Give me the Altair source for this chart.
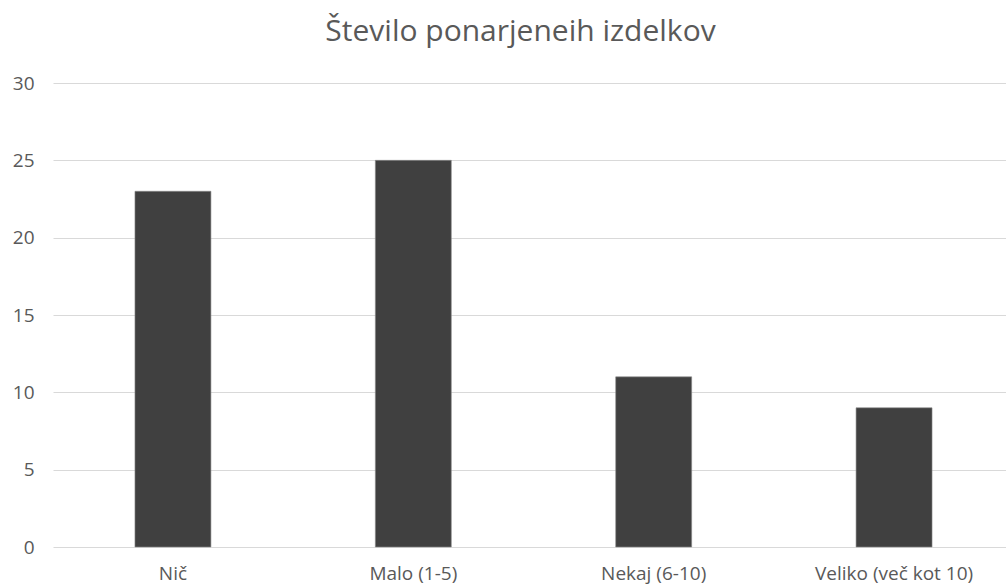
import altair as alt
import pandas as pd

# Number of counterfeit items, by category
categories = ["Nič", "Malo (1-5)", "Nekaj (6-10)", "Veliko (več kot 10)"]
counts = [23, 25, 11, 9]
y_ticks = [0, 5, 10, 15, 20, 25, 30]

df = pd.DataFrame({"kategorija": categories, "stevilo": counts})

FONT = "Open Sans"
TEXT = "#595959"

chart = (
    alt.Chart(df)
    .mark_bar(color="#404040", stroke="#8a8a8a", strokeWidth=0.6)
    .encode(
        x=alt.X(
            "kategorija:N",
            sort=categories,
            scale=alt.Scale(paddingInner=0.684, paddingOuter=0.341, range=[0, 961]),
            axis=alt.Axis(
                title=None,
                labelAngle=0,
                ticks=False,
                domain=False,
                labelPadding=17,
                labelFont=FONT,
                labelFontSize=19,
                labelColor=TEXT,
            ),
        ),
        y=alt.Y(
            "stevilo:Q",
            scale=alt.Scale(domain=[0, 30], nice=False),
            axis=alt.Axis(
                title=None,
                values=y_ticks,
                ticks=False,
                domain=False,
                labelPadding=19,
                labelFont=FONT,
                labelFontSize=19,
                labelColor=TEXT,
                gridColor="#d9d9d9",
                gridWidth=1.2,
            ),
        ),
    )
    .properties(
        width=953,
        height=464,
        autosize=alt.AutoSizeParams(type="none"),
        padding={"left": 53, "top": 83, "right": 0, "bottom": 39},
        title=alt.TitleParams(
            "Število ponarjeneih izdelkov",
            font=FONT,
            fontSize=30,
            fontWeight="normal",
            color=TEXT,
            anchor="middle",
            frame="group",
            baseline="alphabetic",
            offset=3,
            dx=-9,
        ),
    )
    .configure_view(stroke=None)
)

chart.save("out.html", embed_options={"renderer": "svg", "actions": False})
